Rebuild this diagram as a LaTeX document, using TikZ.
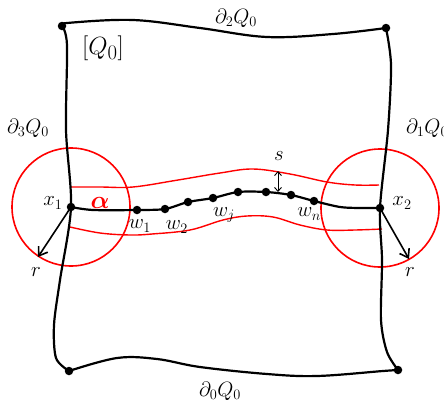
\documentclass[tikz,border=0pt]{standalone}
\usetikzlibrary{arrows.meta}
\usepackage{amsmath,bm}
\begin{document}
\begin{tikzpicture}[x=1pt,y=-1pt,
  dot/.style={circle,fill=black,inner sep=0pt,minimum size=8.5pt},
  edgeline/.style={line width=2.2pt,line cap=round,line join=round},
  redline/.style={red,line width=1.4pt},
  redcirc/.style={red,line width=1.6pt},
  lbl/.style={font=\fontsize{20}{24}\selectfont,inner sep=0pt},
  rarrow/.style={line width=1.6pt,-{Straight Barb[length=8pt,width=11pt]}}]
\useasboundingbox (0,0) rectangle (444,402);
% corners
\node[dot] (tl) at (62,26) {};
\node[dot] (tr) at (386,28) {};
\node[dot] (bl) at (69,371) {};
\node[dot] (br) at (398,370) {};
\coordinate (x1) at (71,207);
\coordinate (x2) at (380,208);
% red circles
\draw[redcirc] (x1) circle (59pt);
\draw[redcirc] (x2) circle (59pt);
% tube
\draw[redline] plot[smooth,tension=0.6] coordinates {(70,187) (100,187) (133,187) (178,180) (220,173) (253,169) (290,174) (327,182) (355,185) (379,185)};
\draw[redline] plot[smooth,tension=0.6] coordinates {(70,227) (100,233) (130,235) (152,234) (190,230) (223,220) (247,216) (273,217) (300,225) (327,230) (355,230) (382,229)};
% boundary
\draw[edgeline] plot[smooth,tension=0.6] coordinates {(tl) (67,23) (133,20) (200,28) (267,37) (333,34) (tr)};
\draw[edgeline] plot[smooth,tension=0.5] coordinates {(tl) (67,45) (66,130) (x1) (60,280) (54,325) (56,358) (bl)};
\draw[edgeline] plot[smooth,tension=0.5] coordinates {(tr) (391,65) (388,130) (x2) (382,260) (381,320) (387,352) (br)};
\draw[edgeline] plot[smooth,tension=0.6] coordinates {(bl) (117,358) (157,359) (200,367) (267,374) (317,376) (383,371) (br)};
% dots on curve
\node[dot] at (x1) {};
\node[dot] at (x2) {};
\node[dot] (w1) at (137,210) {};
\node[dot] (w2) at (165,209) {};
\node[dot] (d3) at (188,202) {};
\node[dot] (d4) at (213,198) {};
\node[dot] (d5) at (238,192) {};
\node[dot] (d6) at (266,192) {};
\node[dot] (d7) at (291,195) {};
\node[dot] (wn) at (314,201) {};
\draw[edgeline] plot[smooth,tension=0.5] coordinates {(x1) (93,210) (w1) (w2) (d3) (d4) (d5) (d6) (d7) (wn) (340,207) (360,208) (x2)};
% s arrow
\coordinate (sTop) at (278,171);
\coordinate (sBot) at (278,192);
\draw[line width=0.9pt,{Straight Barb[length=4pt,width=7pt]}-{Straight Barb[length=4pt,width=7pt]}] (sTop) -- (sBot);
% r arrows
\coordinate (r1) at (38,257);
\coordinate (r2) at (409,259);
\draw[rarrow] (x1) -- (r1);
\draw[rarrow] (x2) -- (r2);
% labels
\node[lbl] (l2) at (236,18) {$\partial_2 Q_0$};
\node[font=\fontsize{30}{34}\selectfont,inner sep=0pt] (lq) at (103,48) {$[Q_0]$};
\node[lbl] (l3) at (28,128) {$\partial_3 Q_0$};
\node[lbl,anchor=west] (l1) at (406,128) {$\partial_1 Q_0$};
\node[lbl] (l0) at (220,391) {$\partial_0 Q_0$};
\node[lbl] (lx1) at (53,203) {$x_1$};
\node[lbl] (lx2) at (402,203) {$x_2$};
\node[red,font=\fontsize{26}{30}\selectfont,inner sep=0pt] (la) at (100,203) {$\bm{\alpha}$};
\node[lbl] (lw1) at (140,226) {$w_1$};
\node[lbl] (lw2) at (177,227) {$w_2$};
\node[lbl] (lwj) at (224,215) {$w_j$};
\node[lbl] (lwn) at (309,214) {$w_n$};
\node[lbl] (ls) at (279,156) {$s$};
\node[lbl] (lr1) at (36,272) {$r$};
\node[lbl] (lr2) at (410,272) {$r$};
\end{tikzpicture}
\end{document}
